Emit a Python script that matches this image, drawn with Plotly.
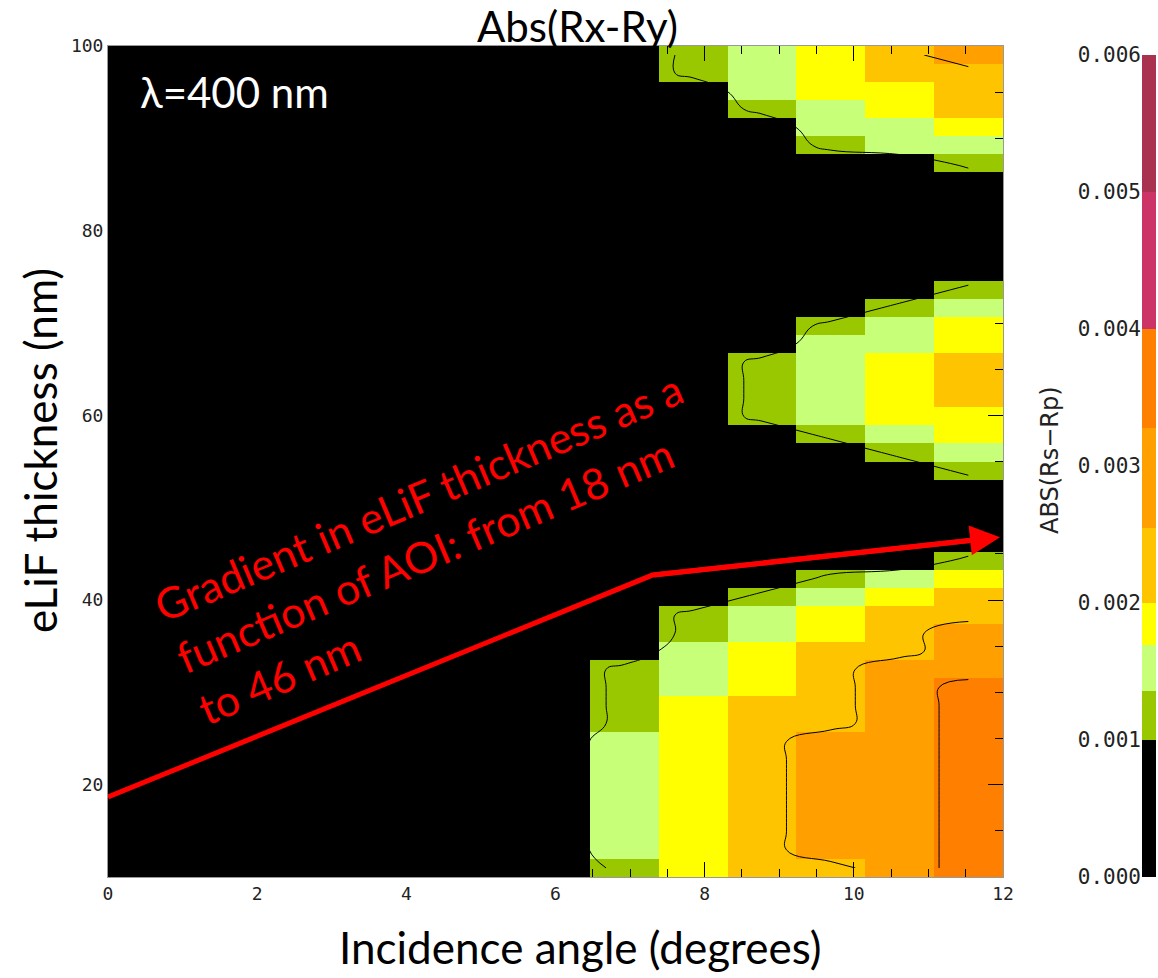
import plotly.graph_objects as go

# ---------------- data ----------------
x_range = [0, 12]          # incidence angle (deg)
y_range = [10, 100]        # eLiF thickness (nm)
n_cols = 13
n_rows = 46

# colour classes: 0 black, 1 green, 2 light green, 3 yellow, 4 gold, 5 orange, 6 dark orange
class_values = [0.0005, 0.00118, 0.00152, 0.00185, 0.00228, 0.0029, 0.0036]

# class code of each cell, one string per column (bottom row first)
col_0 = "0" * 46
col_1 = "0" * 46
col_2 = "0" * 46
col_3 = "0" * 46
col_4 = "0" * 46
col_5 = "0" * 46
col_6 = "0" * 46
col_7 = "1" + "2" * 7 + "1" * 4 + "0" * 34
col_8 = "3" * 10 + "2" * 3 + "1" * 2 + "0" * 29 + "1" * 2
col_9 = "4" * 10 + "3" * 3 + "2" * 2 + "1" + "0" * 9 + "1" * 4 + "0" * 13 + "1" + "2" * 3
col_10 = ("4" + "5" * 7 + "4" * 5 + "3" * 2 + "2" + "1" + "0" * 7 + "1" + "2" * 5 + "1"
          + "0" * 9 + "1" + "2" * 2 + "3" * 3)
col_11 = ("5" * 12 + "4" * 3 + "3" + "2" + "0" * 6 + "1" + "2" + "3" * 4 + "2" * 2 + "1"
          + "0" * 8 + "2" * 2 + "3" * 2 + "4" * 2)
col_12 = ("6" * 11 + "5" * 3 + "4" * 2 + "3" + "1" + "0" * 4 + "1" + "2" + "3" * 2 + "4" * 3
          + "3" * 2 + "2" + "1" + "0" * 6 + "1" + "2" + "3" + "4" * 3 + "5")
columns = [col_0, col_1, col_2, col_3, col_4, col_5, col_6, col_7, col_8, col_9,
           col_10, col_11, col_12]

# colour-bar levels and colours
levels = [0.0, 0.001, 0.00136, 0.00169, 0.002, 0.00255, 0.00328, 0.004, 0.005, 0.006]
level_colors = ["#000000", "#99c800", "#c8ff78", "#ffff00", "#ffc400",
                "#ff9f00", "#ff7f00", "#cc3366", "#a93250"]
cbar_ticks = [0.0, 0.001, 0.002, 0.003, 0.004, 0.005, 0.006]
contour_levels = [0.001, 0.0025, 0.0033]

x_ticks = [0, 2, 4, 6, 8, 10, 12]
y_ticks = [20, 40, 60, 80, 100]

# red annotation path (angle, thickness)
arrow_x = [0.0, 7.3, 11.96]
arrow_y = [18.66, 42.7, 46.8]

# ---------------- build ----------------
dx = (x_range[1] - x_range[0]) / n_cols
dy = (y_range[1] - y_range[0]) / n_rows
xc = [x_range[0] + (i + 0.5) * dx for i in range(n_cols)]
yc = [y_range[0] + (j + 0.5) * dy for j in range(n_rows)]
z = [[class_values[int(columns[i][j])] for i in range(n_cols)] for j in range(n_rows)]

zmin, zmax = levels[0], levels[-1]
cscale = []
for k, c in enumerate(level_colors):
    cscale.append([(levels[k] - zmin) / (zmax - zmin), c])
    cscale.append([(levels[k + 1] - zmin) / (zmax - zmin), c])

W, H = 1158, 978
def px(x):
    return x / W
def py(y):
    return 1 - y / H

fig = go.Figure()
fig.add_trace(go.Heatmap(x=xc, y=yc, z=z, colorscale=cscale, zmin=zmin, zmax=zmax,
                         showscale=False, hoverinfo="skip"))
for lv in contour_levels:
    fig.add_trace(go.Contour(x=xc, y=yc, z=z, contours=dict(start=lv, end=lv, size=1,
                             coloring="none"),
                             line=dict(color="black", width=1, smoothing=1.3),
                             showscale=False, hoverinfo="skip"))

# colour bar as its own small heatmap
band_mid = [(levels[k] + levels[k + 1]) / 2 for k in range(len(level_colors))]
fig.add_trace(go.Heatmap(x=[0, 1], y=levels, z=[[v] for v in band_mid], colorscale=cscale,
                         zmin=zmin, zmax=zmax, showscale=False, xaxis="x2", yaxis="y2",
                         hoverinfo="skip"))

# red gradient arrow
fig.add_trace(go.Scatter(x=arrow_x[:2] + [arrow_x[2] - 0.25],
                         y=arrow_y[:2] + [arrow_y[2] - 0.22], mode="lines",
                         line=dict(color="#ff0000", width=5), hoverinfo="skip"))
fig.add_annotation(x=arrow_x[2], y=arrow_y[2], ax=arrow_x[1], ay=arrow_y[1], xref="x", yref="y",
                   axref="x", ayref="y", text="", showarrow=True, arrowhead=2, arrowsize=1.2,
                   arrowwidth=5, arrowcolor="#ff0000", standoff=0)

big = "Lato"
tickfont = dict(family="DejaVu Sans Mono", size=18, color="#222222")

fig.update_layout(
    width=W, height=H, margin=dict(l=0, r=0, t=0, b=0, pad=0, autoexpand=False),
    paper_bgcolor="white", plot_bgcolor="black", showlegend=False,
    xaxis=dict(domain=[px(108), px(1003)], range=x_range, tickvals=x_ticks, automargin=False,
               ticks="inside", ticklen=15, tickcolor="black", tickwidth=1,
               showline=True, linecolor="#999999", mirror="allticks", showgrid=False,
               zeroline=False, tickfont=tickfont,
               minor=dict(dtick=0.5, tick0=0, ticks="inside", ticklen=8, tickcolor="black",
                          showgrid=False)),
    yaxis=dict(domain=[py(877), py(46)], range=y_range, tickvals=y_ticks, automargin=False,
               ticks="inside", ticklen=15, tickcolor="black", tickwidth=1,
               showline=True, linecolor="#999999", mirror="allticks", showgrid=False,
               zeroline=False, tickfont=tickfont,
               minor=dict(dtick=5, tick0=0, ticks="inside", ticklen=8, tickcolor="black",
                          showgrid=False)),
    xaxis2=dict(domain=[px(1142), px(1156)], range=[0, 1], visible=False, anchor="y2",
                automargin=False),
    yaxis2=dict(domain=[py(877), py(55)], range=[zmin, zmax], anchor="x2", side="left",
                automargin=False,
                tickvals=cbar_ticks, ticktext=["%.3f" % t for t in cbar_ticks],
                ticks="", showgrid=False, zeroline=False, showline=False,
                tickfont=dict(family="DejaVu Sans Mono", size=21, color="#222222")),
)

def label(text, x, y, size, color="black", family=big, angle=0, xanchor="center", align="center"):
    fig.add_annotation(text=text, x=px(x), y=py(y), xref="paper", yref="paper",
                       xanchor=xanchor, yanchor="middle", textangle=angle, align=align,
                       showarrow=False, font=dict(family=family, size=size, color=color))

label("Abs(Rx-Ry)", 577, 26, 42)
label("λ=400 nm", 138, 92, 42, color="white", xanchor="left")
label("Incidence angle (degrees)", 580, 947, 44)
label("eLiF thickness (nm)", 40, 451, 44, angle=-90)
label("ABS(Rs−Rp)", 1050, 460, 24, color="#222222", family="DejaVu Sans", angle=-90)
label("Gradient in eLiF thickness as a<br>function of AOI: from 18 nm<br>to 46 nm",
      440, 548, 43, color="#ff0000", angle=-23, align="left")

fig.write_html("out.html")
